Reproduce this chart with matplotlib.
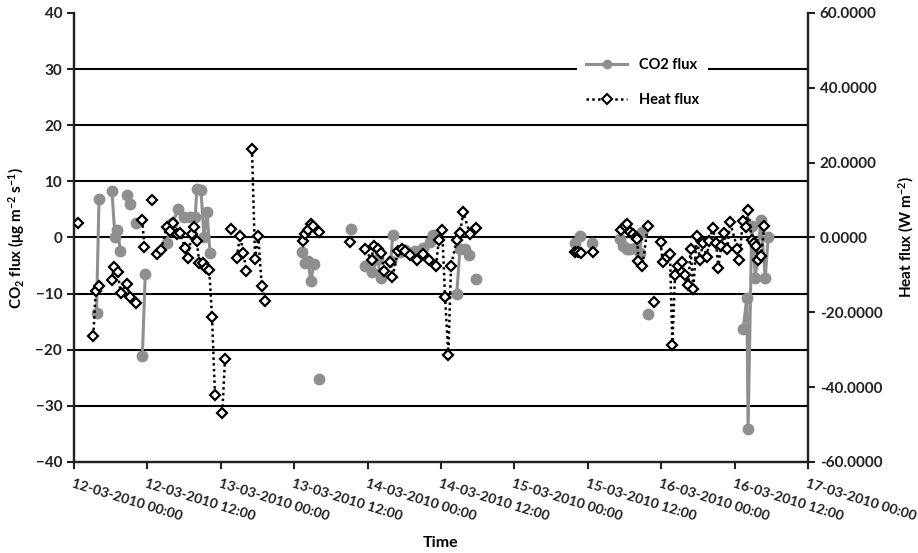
import numpy as np
import matplotlib
matplotlib.use('Agg')
import matplotlib.pyplot as plt
import matplotlib.dates as mdates
from matplotlib.lines import Line2D
from matplotlib.ticker import FuncFormatter
import datetime as dt

plt.rcParams['font.family'] = ['Lato', 'DejaVu Sans']
plt.rcParams['font.weight'] = 'bold'
plt.rcParams['mathtext.fontset'] = 'custom'
plt.rcParams['mathtext.rm'] = 'Lato:bold'
plt.rcParams['mathtext.bf'] = 'Lato:bold'
plt.rcParams['mathtext.it'] = 'Lato:bold'
plt.rcParams['mathtext.default'] = 'bf'

start = dt.datetime(2010, 3, 12, 0, 0)
end = dt.datetime(2010, 3, 17, 0, 0)
nan = np.nan

# Hours since 12-03-2010 00:00 (nan = gap in the line)
co2_hours = [3.68, 4.09, nan,
             6.21, 6.70, 7.08, 7.60, nan,
             8.62, 9.16, nan,
             10.14, nan,
             11.17, 11.66, nan,
             15.16, 16.02, 17.08, 17.98, 18.96, 19.83, 20.06, 20.76, 21.25, 21.74, 22.24, nan,
             37.22, 37.77, 38.31, 38.70, 39.24, nan,
             40.10, nan,
             45.21, nan,
             47.58, 48.67, 49.65, 50.14, nan,
             51.80, 52.10, nan,
             53.3, 54.1, 55.7, 57.1, 58.2, 58.7, nan,
             62.57, 63.1, 63.9, 64.6, nan,
             65.7, nan,
             81.9, nan,
             82.8, nan,
             84.7, nan,
             89.3, 89.7, 90.4, 90.9, 91.7, 92.5, 92.8, nan,
             93.8, nan,
             109.4, 110.0, 110.2, 110.8, 111.4, 112.3, 113.0, 113.5]
co2_flux = [-13.4, 6.9, nan,
            8.3, 0.0, 1.3, -2.4, nan,
            7.6, 5.9, nan,
            2.5, nan,
            -21.1, -6.5, nan,
            -0.9, 2.5, 5.0, 3.6, 3.6, 3.6, 8.6, 8.4, 0.0, 4.5, -2.7, nan,
            -2.6, -4.5, -4.2, -7.8, -4.7, nan,
            -25.3, nan,
            1.5, nan,
            -5.1, -6.2, -3.9, -7.2, nan,
            -4.2, 0.5, nan,
            -2.6, -2.3, -2.4, -1.8, -0.8, 0.4, nan,
            -10.1, -2.0, -2.0, -3.2, nan,
            -7.4, nan,
            -1.0, nan,
            0.2, nan,
            -0.9, nan,
            -0.3, -1.5, -2.1, -2.1, -1.8, -2.7, 0.9, nan,
            -13.7, nan,
            -16.3, -10.7, -34.2, 2.0, -7.2, 3.2, -7.2, 0.1]

heat_hours = [0.6, nan,
              3.16, 3.55, 4.09, nan,
              6.16, 6.59, 7.14, 7.64, 8.62, 9.16, 10.14, nan,
              11.17, 11.49, nan,
              12.7, nan,
              13.57, 14.22, 15.16, 15.7, 16.23, 16.79, 17.33, 18.15, 18.59, 19.24, 19.67, 20.06,
              20.49, 21.04, 21.53, 22.12, 22.56, 23.05, nan,
              24.25, 24.69, nan,
              25.6, nan,
              26.6, 27.14, 27.7, 28.2, nan,
              29.1, 29.6, 30.13, 30.69, 31.23, nan,
              37.39, 37.77, 38.26, 38.70, 39.13, 40.1, nan,
              45.2, nan,
              47.62, 48.64, 48.97, 49.62, 50.27, 50.68, 51.66, 52.07, 53.0, 53.58, 54.1, 54.93,
              56.03, 57.1, 58.09, 59.18, 59.63, 60.2, 60.66, 61.2, 61.64, 62.57, 63.1, 63.65,
              64.74, 65.72, nan,
              81.9, 82.45, 82.9, nan,
              84.8, nan,
              89.35, 90.08, 90.46, 90.9, 91.44, 91.88, 92.1, 92.26, 92.92, 93.8, nan,
              94.87, nan,
              95.9, 96.24, 96.9, 97.44, 97.82, 98.26, 98.8, 99.35, 99.89, 100.43, 100.8, 101.25,
              101.8, 102.34, 102.8, 103.44, 103.87, 104.42, 104.96, 105.34, 105.78, 106.27,
              106.81, 107.25, 108.45, 108.78, 109.33, 109.87, 110.24, 110.8, 111.17, 111.5,
              111.78, 112.32, 112.86]
heat_flux = [3.9, nan,
             -26.3, -14.3, -13.0, nan,
             -11.4, -7.8, -9.3, -14.8, -12.4, -15.8, -17.4, nan,
             4.8, -2.5, nan,
             10.1, nan,
             -4.5, -3.4, 2.75, 1.7, 3.9, 0.8, 1.25, -2.75, -5.4, 0.8, 2.75, -1.0,
             -6.75, -6.9, -8.1, -8.7, -21.2, -42.1, nan,
             -46.8, -32.4, nan,
             2.3, nan,
             -5.4, 0.35, -4.1, -9.0, nan,
             23.75, -5.7, 0.35, -13.0, -17.0, nan,
             -1.0, 0.8, 2.1, 3.5, 3.2, 1.4, nan,
             -1.25, nan,
             -3.2, -6.0, -2.3, -3.0, -4.1, -9.0, -6.6, -10.5, -3.65, -3.2, -3.5, -4.8,
             -5.9, -4.5, -5.9, -7.7, -0.7, 2.1, -15.9, -31.4, -7.5, -0.7, 1.25, 6.75,
             0.8, 2.5, nan,
             -3.8, -4.0, -4.1, nan,
             -3.9, nan,
             1.95, 3.0, 3.5, 1.4, 0.8, 0.2, -0.5, -6.3, -7.7, 3.0, nan,
             -17.3, nan,
             -1.25, -6.6, -5.15, -4.5, -28.8, -10.1, -7.5, -6.6, -9.9, -12.8, -3.0, -13.9,
             0.5, -6.1, -1.4, -5.15, -1.0, 2.6, -1.4, -8.1, -2.3, 1.1,
             -3.2, 4.1, -3.0, -5.9, 4.35, 2.75, 7.3, -0.7, -1.4, -2.3,
             -5.9, -5.0, 3.2]

left_ticks = [-40, -30, -20, -10, 0, 10, 20, 30, 40]
right_ticks = [-60, -40, -20, 0, 20, 40, 60]

t0 = mdates.date2num(start)
co2_x = np.array(co2_hours, dtype=float) / 24.0 + t0
heat_x = np.array(heat_hours, dtype=float) / 24.0 + t0

fig = plt.figure(figsize=(9.18, 5.53), dpi=100)
ax = fig.add_axes([0.0806, 0.1646, 0.7996, 0.8119])
ax2 = ax.twinx()

ax.set_xlim(mdates.date2num(start), mdates.date2num(end))
ax.set_ylim(-40, 40)
ax2.set_ylim(-60, 60)
ax.set_yticks(left_ticks)
ax2.set_yticks(right_ticks)
ax2.yaxis.set_major_formatter(FuncFormatter(lambda v, p: f"{v:.4f}"))

for y in left_ticks[1:-1]:
    ax.axhline(y, color='black', lw=1.5, zorder=0)

gray = '#8f8f8f'
ax.plot(co2_x, co2_flux, color=gray, lw=2.2, marker='o', ms=7.5,
        mfc=gray, mec=gray, zorder=3)
ax2.plot(heat_x, heat_flux, color='black', lw=1.8, ls=(0, (1, 1.3)),
         marker='D', ms=5.5, mfc='white', mec='black', mew=1.6, zorder=4)

ax.xaxis.set_major_locator(mdates.HourLocator(byhour=[0, 12]))
ax.xaxis.set_major_formatter(mdates.DateFormatter('%d-%m-%Y %H:%M'))

for a in (ax, ax2):
    for s in a.spines.values():
        s.set_linewidth(1.6)
        s.set_color('#222222')
    a.spines['top'].set_visible(False)
ax.tick_params(axis='y', labelsize=11, width=1.5, length=5, direction='out', colors='#222222')
ax2.tick_params(axis='y', labelsize=11, width=1.5, length=5, direction='out', colors='#222222')
ax.tick_params(axis='x', labelsize=10.1, width=1.5, length=5, direction='out',
               colors='#222222', pad=6, labelrotation=-17)
for lab in ax.get_xticklabels():
    lab.set_ha('left')
    lab.set_va('top')
    lab.set_rotation_mode('anchor')
for lab in ax.get_yticklabels() + ax2.get_yticklabels() + ax.get_xticklabels():
    lab.set_fontweight('bold')

ax.set_ylabel(r'CO$_2$ flux ($\mu$g m$^{-2}$ s$^{-1}$)', fontsize=11, fontweight='bold', labelpad=6)
ax2.set_ylabel(r'Heat flux (W m$^{-2}$)', fontsize=11, fontweight='bold', labelpad=10, rotation=90)
ax.set_xlabel('Time', fontsize=11.5, fontweight='bold', labelpad=10)

handles = [Line2D([0], [0], color=gray, lw=2.2, marker='o', ms=6, mfc=gray, mec=gray),
           Line2D([0], [0], color='black', lw=1.8, ls=(0, (1, 1.3)), marker='D', ms=5,
                  mfc='white', mec='black', mew=1.5)]
leg = ax2.legend(handles, ['CO2 flux', 'Heat flux'], loc='upper left',
                 bbox_to_anchor=(0.676, 0.935), frameon=True, framealpha=1,
                 facecolor='white', edgecolor='none', fontsize=10.5,
                 handlelength=2.8, labelspacing=1.4, borderpad=0.6, fancybox=False)
for t in leg.get_texts():
    t.set_fontweight('bold')
leg.set_zorder(10)

fig.savefig('out.png', dpi=100)
